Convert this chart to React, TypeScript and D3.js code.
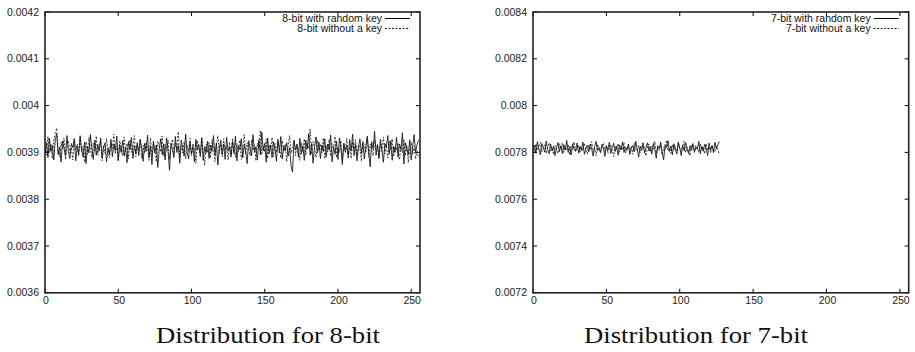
import React from "react";
import * as d3 from "d3";

// values in units of 1e-6
const solid8 = [
  3898, 3921, 3889, 3930, 3902, 3915, 3884, 3927, 3940, 3895, 3911, 3879, 3924, 3908, 3893, 3936,
  3901, 3887, 3919, 3910, 3929, 3882, 3914, 3897, 3933, 3905, 3890, 3922, 3876, 3913, 3899, 3938,
  3907, 3885, 3926, 3894, 3917, 3903, 3931, 3888, 3912, 3920, 3880, 3909, 3896, 3928, 3891, 3918,
  3904, 3935, 3883, 3916, 3900, 3925, 3892, 3911, 3878, 3923, 3906, 3932, 3887, 3914, 3898, 3921,
  3893, 3927, 3909, 3881, 3919, 3902, 3937, 3890, 3913, 3874, 3924, 3899, 3916, 3868, 3908, 3929,
  3895, 3918, 3884, 3931, 3903, 3862, 3920, 3906, 3889, 3934, 3900, 3915, 3877, 3926, 3910, 3892,
  3939, 3901, 3886, 3922, 3897, 3913, 3880, 3928, 3905, 3917, 3891, 3930, 3883, 3912, 3899, 3924,
  3887, 3915, 3902, 3936, 3894, 3920, 3873, 3909, 3926, 3896, 3918, 3885, 3932, 3903, 3911, 3890,
  3923, 3898, 3935, 3882, 3914, 3906, 3929, 3888, 3917, 3901, 3876, 3925, 3908, 3893, 3938, 3900,
  3912, 3884, 3927, 3895, 3943, 3904, 3919, 3879, 3931, 3897, 3916, 3889, 3922, 3907, 3881, 3928,
  3899, 3934, 3886, 3913, 3903, 3921, 3892, 3910, 3871, 3858, 3925, 3905, 3918, 3890, 3930, 3897,
  3914, 3883, 3926, 3908, 3940, 3894, 3919, 3877, 3911, 3933, 3899, 3922, 3887, 3916, 3902, 3929,
  3891, 3918, 3905, 3937, 3880, 3912, 3896, 3924, 3885, 3931, 3909, 3874, 3920, 3900, 3915, 3888,
  3927, 3903, 3939, 3893, 3917, 3882, 3910, 3929, 3898, 3921, 3886, 3914, 3935, 3901, 3869, 3923,
  3907, 3945, 3894, 3916, 3889, 3928, 3904, 3879, 3919, 3911, 3936, 3897, 3925, 3883, 3913, 3900,
  3932, 3890, 3918, 3906, 3942, 3875, 3921, 3909, 3895, 3927, 3884, 3914, 3938, 3899, 3917, 3926,
];
const dashed8 = [
  3912, 3895, 3934, 3900, 3919, 3887, 3926, 3941, 3952, 3903, 3890, 3922, 3908, 3931, 3885, 3916,
  3924, 3899, 3910, 3884, 3929, 3906, 3918, 3892, 3937, 3901, 3913, 3879, 3923, 3896, 3932, 3907,
  3889, 3920, 3903, 3935, 3894, 3911, 3926, 3882, 3915, 3898, 3930, 3905, 3888, 3921, 3909, 3939,
  3897, 3914, 3881, 3925, 3908, 3893, 3933, 3902, 3919, 3886, 3927, 3900, 3912, 3936, 3891, 3917,
  3904, 3929, 3887, 3915, 3898, 3922, 3910, 3883, 3931, 3895, 3918, 3906, 3880, 3924, 3913, 3901,
  3935, 3892, 3917, 3903, 3926, 3885, 3911, 3928, 3897, 3920, 3907, 3944, 3890, 3914, 3899, 3923,
  3886, 3916, 3902, 3930, 3893, 3919, 3908, 3877, 3925, 3911, 3896, 3933, 3904, 3872, 3918, 3900,
  3921, 3888, 3927, 3909, 3880, 3914, 3936, 3898, 3917, 3891, 3929, 3905, 3913, 3884, 3922, 3896,
  3930, 3907, 3890, 3919, 3901, 3926, 3885, 3912, 3938, 3897, 3921, 3908, 3893, 3927, 3904, 3916,
  3882, 3920, 3909, 3947, 3895, 3913, 3901, 3928, 3887, 3916, 3905, 3932, 3891, 3919, 3900, 3924,
  3911, 3888, 3925, 3903, 3918, 3880, 3914, 3936, 3898, 3910, 3927, 3893, 3915, 3906, 3883, 3921,
  3902, 3929, 3894, 3917, 3908, 3950, 3896, 3923, 3911, 3889, 3926, 3904, 3918, 3899, 3931, 3886,
  3914, 3901, 3928, 3892, 3919, 3907, 3934, 3889, 3912, 3900, 3925, 3883, 3917, 3905, 3930, 3896,
  3911, 3887, 3922, 3903, 3927, 3894, 3916, 3908, 3881, 3924, 3913, 3899, 3930, 3890, 3918, 3906,
  3893, 3926, 3909, 3917, 3885, 3921, 3902, 3933, 3897, 3915, 3888, 3924, 3906, 3929, 3891, 3912,
  3904, 3920, 3884, 3911, 3899, 3928, 3893, 3915, 3878, 3907, 3922, 3896, 3913, 3886, 3902, 3890,
];
const solid7 = [
  7805, 7831, 7798, 7846, 7815, 7790, 7838, 7822, 7801, 7849, 7812, 7794, 7835, 7808, 7827, 7786,
  7819, 7842, 7803, 7828, 7795, 7833, 7811, 7851, 7800, 7824, 7789, 7837, 7814, 7806, 7840, 7797,
  7826, 7809, 7844, 7792, 7818, 7830, 7802, 7836, 7813, 7784, 7825, 7847, 7807, 7821, 7799, 7834,
  7816, 7783, 7829, 7810, 7843, 7796, 7820, 7839, 7804, 7827, 7788, 7832, 7811, 7845, 7800, 7823,
  7808, 7836, 7791, 7817, 7830, 7803, 7848, 7814, 7780, 7826, 7809, 7835, 7797, 7821, 7841, 7806,
  7824, 7793, 7839, 7812, 7775, 7829, 7816, 7844, 7801, 7768, 7833, 7819, 7850, 7804, 7827, 7790,
  7837, 7811, 7798, 7845, 7820, 7786, 7831, 7807, 7842, 7815, 7795, 7828, 7809, 7838, 7800, 7823,
  7813, 7847, 7794, 7826, 7805, 7834, 7818, 7787, 7840, 7810, 7829, 7799, 7843, 7816, 7832, 7846,
];
const dashed7 = [
  7820, 7799, 7836, 7809, 7827, 7843, 7802, 7818, 7833, 7795, 7824, 7840, 7806, 7815, 7791, 7829,
  7810, 7795, 7837, 7817, 7841, 7800, 7823, 7808, 7834, 7788, 7826, 7812, 7845, 7803, 7819, 7831,
  7798, 7822, 7807, 7839, 7815, 7793, 7830, 7811, 7846, 7804, 7820, 7787, 7835, 7816, 7801, 7825,
  7840, 7805, 7828, 7796, 7819, 7834, 7808, 7782, 7825, 7813, 7838, 7801, 7822, 7810, 7843, 7797,
  7818, 7831, 7803, 7826, 7792, 7839, 7814, 7806, 7829, 7799, 7821, 7845, 7810, 7785, 7824, 7836,
  7802, 7827, 7815, 7848, 7797, 7820, 7809, 7832, 7789, 7823, 7812, 7852, 7806, 7818, 7796, 7834,
  7811, 7825, 7790, 7837, 7816, 7804, 7829, 7847, 7799, 7821, 7810, 7786, 7833, 7818, 7806, 7830,
  7819, 7801, 7836, 7812, 7825, 7794, 7838, 7808, 7823, 7797, 7830, 7814, 7803, 7826, 7811, 7793,
];

const xTicks = [0, 50, 100, 150, 200, 250];
const yTicks8 = [0.0036, 0.0037, 0.0038, 0.0039, 0.004, 0.0041, 0.0042];
const yTicks7 = [0.0072, 0.0074, 0.0076, 0.0078, 0.008, 0.0082, 0.0084];
const yLabels8 = ["0.0036", "0.0037", "0.0038", "0.0039", "0.004", "0.0041", "0.0042"];
const yLabels7 = ["0.0072", "0.0074", "0.0076", "0.0078", "0.008", "0.0082", "0.0084"];

const SANS = "'Liberation Sans', Arial, Helvetica, sans-serif";
const SERIF = "'Liberation Serif', 'Times New Roman', serif";

type PanelProps = {
  x0: number;
  x1: number;
  yDomain: [number, number];
  yTicks: number[];
  yLabels: string[];
  solid: number[];
  dashed: number[];
  labelSolid: string;
  labelDashed: string;
  title: string;
  titleX: number;
};

function Panel(p: PanelProps) {
  const top = 12;
  const bottom = 292.8;
  const x = d3.scaleLinear().domain([0, 256]).range([p.x0, p.x1]);
  const y = d3.scaleLinear().domain(p.yDomain).range([bottom, top]);
  const line = d3
    .line<number>()
    .x((_, i) => x(i))
    .y((v) => y(v * 1e-6));
  const tl = 4;
  const legX = p.x1 - 38;
  return (
    <g>
      <path d={line(p.dashed) || ""} fill="none" stroke="#111" strokeWidth={0.8} strokeDasharray="2,1.5" />
      <path d={line(p.solid) || ""} fill="none" stroke="#111" strokeWidth={0.85} />
      {xTicks.map((t) => (
        <g key={"x" + t}>
          <line x1={x(t)} x2={x(t)} y1={bottom} y2={bottom - tl} stroke="#000" strokeWidth={1} />
          <line x1={x(t)} x2={x(t)} y1={top} y2={top + tl} stroke="#000" strokeWidth={1} />
          <text x={x(t) + 1} y={304} fontFamily={SANS} fontSize={10.5} textAnchor="middle" fill="#222">
            {t}
          </text>
        </g>
      ))}
      {p.yTicks.map((t, i) => (
        <g key={"y" + i}>
          <line x1={p.x0} x2={p.x0 + tl} y1={y(t)} y2={y(t)} stroke="#000" strokeWidth={1} />
          <line x1={p.x1} x2={p.x1 - tl} y1={y(t)} y2={y(t)} stroke="#000" strokeWidth={1} />
          <text x={p.x0 - 6} y={y(t)} dy="0.35em" fontFamily={SANS} fontSize={10.5} textAnchor="end" fill="#222">
            {p.yLabels[i]}
          </text>
        </g>
      ))}
      <rect x={p.x0} y={top} width={p.x1 - p.x0} height={bottom - top} fill="none" stroke="#222" strokeWidth={1.6} />
      <text x={legX} y={21.5} fontFamily={SANS} fontSize={10.5} textAnchor="end" fill="#111">
        {p.labelSolid}
      </text>
      <line x1={legX + 3} x2={legX + 28} y1={18.5} y2={18.5} stroke="#000" strokeWidth={1} />
      <text x={legX} y={31.5} fontFamily={SANS} fontSize={10.5} textAnchor="end" fill="#111">
        {p.labelDashed}
      </text>
      <line x1={legX + 3} x2={legX + 28} y1={28.5} y2={28.5} stroke="#000" strokeWidth={0.9} strokeDasharray="2,1.5" />
      <text
        x={p.titleX}
        y={343}
        fontFamily={SERIF}
        fontSize={23}
        textAnchor="middle"
        textLength={224}
        lengthAdjust="spacingAndGlyphs"
        fill="#111"
      >
        {p.title}
      </text>
    </g>
  );
}

export default function App() {
  return (
    <svg
      width={915}
      height={352}
      style={{ position: "absolute", left: 0, top: 0, display: "block", background: "#fff" }}
    >
      <Panel
        x0={45}
        x1={420}
        yDomain={[0.0036, 0.0042]}
        yTicks={yTicks8}
        yLabels={yLabels8}
        solid={solid8}
        dashed={dashed8}
        labelSolid="8-bit with random key"
        labelDashed="8-bit without a key"
        title="Distribution for 8-bit"
        titleX={268}
      />
      <Panel
        x0={533}
        x1={908.7}
        yDomain={[0.0072, 0.0084]}
        yTicks={yTicks7}
        yLabels={yLabels7}
        solid={solid7}
        dashed={dashed7}
        labelSolid="7-bit with random key"
        labelDashed="7-bit without a key"
        title="Distribution for 7-bit"
        titleX={696}
      />
    </svg>
  );
}
